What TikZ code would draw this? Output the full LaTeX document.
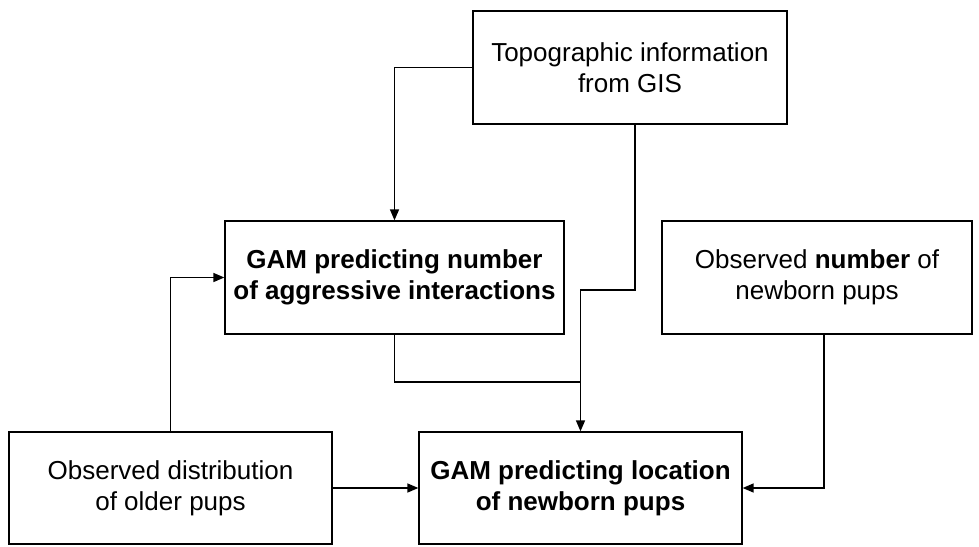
\documentclass[tikz,border=0pt]{standalone}
\usepackage{fontspec}
\setmainfont{Liberation Sans}
\usetikzlibrary{arrows.meta}
\begin{document}
\begin{tikzpicture}[x=1pt,y=-1pt,
  box/.style={draw, line width=1.3pt, align=center, inner sep=0pt,
    font=\fontsize{26}{31}\selectfont},
  link/.style={line width=1.5pt},
  arr/.style={link, -{Triangle[length=11pt,width=9pt]}}]
\useasboundingbox (0,0) rectangle (979,546);

% boxes
\node[box, minimum width=314, minimum height=113] (topo) at (630,67.5)
  {Topographic information\\from GIS};
\node[box, minimum width=339, minimum height=113] (mid) at (394.5,277.5)
  {\bfseries GAM predicting number\\\bfseries of aggressive interactions};
\node[box, minimum width=310, minimum height=113] (obsn) at (817,277.5)
  {Observed \textbf{number} of\\newborn pups};
\node[box, minimum width=323, minimum height=112] (older) at (170.5,488)
  {Observed distribution\\of older pups};
\node[box, minimum width=323, minimum height=112] (loc) at (580.5,488)
  {\bfseries GAM predicting location\\\bfseries of newborn pups};

% bend points
\coordinate (jog) at (635,290);
\coordinate (merge) at (580.5,382);
\coordinate (drop) at (824,334);

% connectors
\draw[arr] (topo.west) -| (mid.north);
\draw[arr] (topo.south -| jog) -- (jog) -| (loc.north);
\draw[link] (mid.south) |- (merge);
\draw[arr] (drop) |- (loc.east);
\draw[arr] (older.north) |- (mid.west);
\draw[arr] (older.east) -- (loc.west);
\end{tikzpicture}
\end{document}
